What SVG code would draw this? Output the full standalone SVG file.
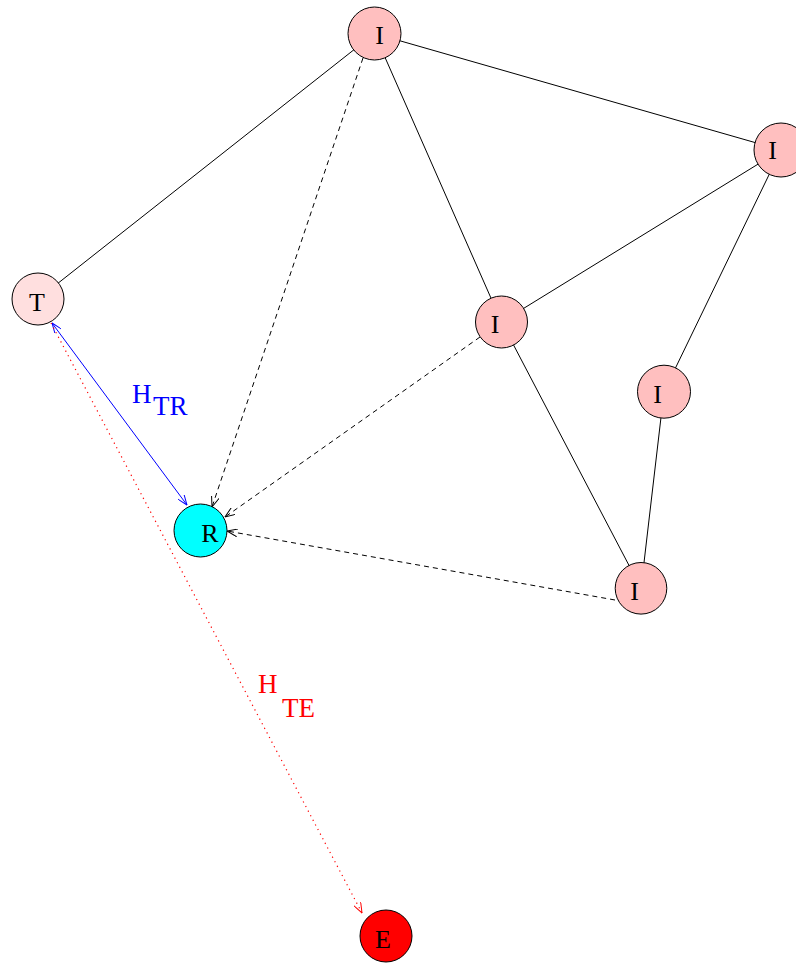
<svg xmlns="http://www.w3.org/2000/svg" width="796" height="963" viewBox="0 0 796 963">
<style>
.node{stroke:#000;stroke-width:1}
.lbl{font-family:"Liberation Serif","Times New Roman",serif;font-size:26px;text-anchor:middle;fill:#000}
.edge{stroke:#000;stroke-width:1;fill:none}
.dash{stroke:#000;stroke-width:1;fill:none;stroke-dasharray:5,4}
.blue{stroke:#0000ff;stroke-width:1;fill:none}
.red{stroke:#ff0000;stroke-width:1.2;fill:none;stroke-dasharray:1.2,4}
.sub{font-family:"Liberation Serif","Times New Roman",serif;font-size:27px}
</style>
<defs>
<marker id="ak" markerUnits="userSpaceOnUse" viewBox="0 0 11 8" refX="10.5" refY="4" markerWidth="11" markerHeight="8" orient="auto-start-reverse"><path d="M0,0 L10.5,4 L0,8" fill="none" stroke="#000" stroke-width="1"/></marker>
<marker id="ab" markerUnits="userSpaceOnUse" viewBox="0 0 11 8" refX="10.5" refY="4" markerWidth="11" markerHeight="8" orient="auto-start-reverse"><path d="M0,0 L10.5,4 L0,8" fill="none" stroke="#0000ff" stroke-width="1"/></marker>
<marker id="ar" markerUnits="userSpaceOnUse" viewBox="0 0 11 8" refX="10.5" refY="4" markerWidth="11" markerHeight="8" orient="auto-start-reverse"><path d="M0,0 L10.5,4 L0,8" fill="none" stroke="#ff0000" stroke-width="1"/></marker>
</defs>
<g id="connectors">
<line class="edge" x1="374.5" y1="33.5" x2="38" y2="299"/>
<line class="edge" x1="374.5" y1="33.5" x2="781" y2="150"/>
<line class="edge" x1="374.5" y1="33.5" x2="501.5" y2="322"/>
<line class="edge" x1="781" y1="150" x2="501.5" y2="322"/>
<line class="edge" x1="781" y1="150" x2="664" y2="391.7"/>
<line class="edge" x1="501.5" y1="322" x2="641" y2="588.3"/>
<line class="edge" x1="664" y1="391.7" x2="641" y2="588.3"/>
<line class="dash" x1="363" y1="58" x2="212" y2="507" marker-end="url(#ak)"/>
<line class="dash" x1="480" y1="337" x2="225" y2="517" marker-end="url(#ak)"/>
<line class="dash" x1="615" y1="600" x2="227" y2="531" marker-end="url(#ak)"/>
<line class="blue" x1="52" y1="323" x2="187" y2="505" marker-start="url(#ab)" marker-end="url(#ab)"/>
<line class="red" x1="51" y1="323" x2="362" y2="913"/>
<line x1="352" y1="894" x2="362" y2="913" stroke="none" marker-end="url(#ar)"/>
</g>
<g id="n_top"><circle class="node" cx="374.5" cy="33.5" r="26.5" fill="#ffbfbf"/><text class="lbl" x="379.5" y="44">I</text></g>
<g id="n_right"><circle class="node" cx="781" cy="150" r="27" fill="#ffbfbf"/><text class="lbl" x="772.5" y="159">I</text></g>
<g id="n_T"><circle class="node" cx="38" cy="299" r="26" fill="#ffdfdf"/><text class="lbl" x="37" y="311">T</text></g>
<g id="n_mid"><circle class="node" cx="501.5" cy="322" r="26" fill="#ffbfbf"/><text class="lbl" x="495" y="333">I</text></g>
<g id="n_i4"><circle class="node" cx="664" cy="391.7" r="26.5" fill="#ffbfbf"/><text class="lbl" x="657.5" y="403">I</text></g>
<g id="n_R"><circle class="node" cx="200.5" cy="530.5" r="26.5" fill="#00ffff"/><text class="lbl" x="210" y="541.5">R</text></g>
<g id="n_i5"><circle class="node" cx="641" cy="588.3" r="25.8" fill="#ffbfbf"/><text class="lbl" x="634.5" y="600">I</text></g>
<g id="n_E"><circle class="node" cx="386" cy="936" r="26" fill="#ff0000"/><text class="lbl" x="383" y="948">E</text></g>
<g id="labels">
<text class="sub" x="132" y="403" fill="#0000ff">H</text>
<text class="sub" x="153" y="415" fill="#0000ff">TR</text>
<text class="sub" x="258" y="693" fill="#ff0000">H</text>
<text class="sub" x="282" y="717" fill="#ff0000">TE</text>
</g>
</svg>
